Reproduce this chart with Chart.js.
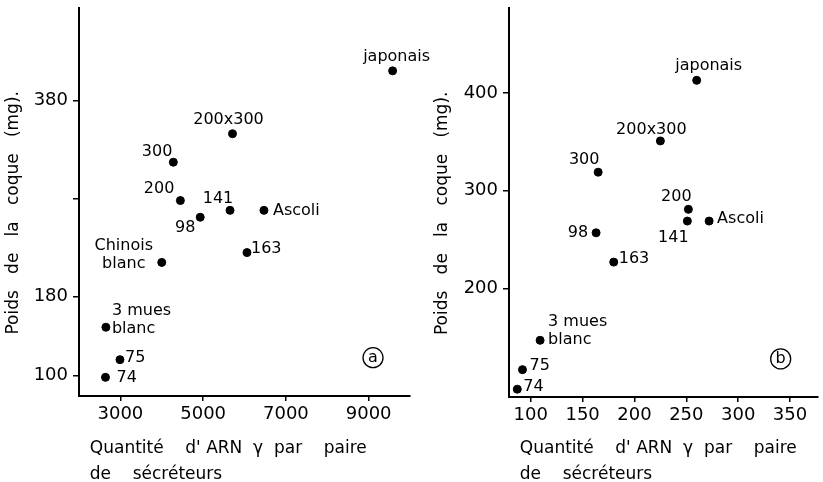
<!DOCTYPE html>
<html>
<head>
<meta charset="utf-8">
<script src="https://cdn.jsdelivr.net/npm/chart.js@4"></script>
<style>
  html, body { margin: 0; padding: 0; background: #fff; }
  #wrap { position: relative; width: 823px; height: 482px; overflow: hidden; background: #fff; }
  #chart-a { position: absolute; left: 0; top: 0; }
  #chart-b { position: absolute; left: 411px; top: 0; }
</style>
</head>
<body>
<div id="wrap">
  <canvas id="chart-a" width="450" height="482"></canvas>
  <canvas id="chart-b" width="412" height="482"></canvas>
</div>
<script>
// Panel a
const namesA = ['japonais', '200x300', '300', '200', '141', 'Ascoli', '98', '163', 'Chinois\nblanc', '3 mues\nblanc', '75', '74'];
const arnA = [9580, 5710, 4280, 4450, 5650, 6470, 4930, 6060, 4000, 2650, 2990, 2640];
const poidsA = [410, 346, 317, 278, 268, 268, 261, 225, 215, 149, 116, 98];
const xTicksA = [3000, 5000, 7000, 9000];
const yTicksA = [100, 180, 280, 380];
const yTickLabelsA = ['100', '180', '', '380'];

// Panel b
const namesB = ['japonais', '200x300', '300', '200', '141', 'Ascoli', '98', '163', '3 mues\nblanc', '75', '74'];
const arnB = [260, 225, 165, 252, 251, 272, 163, 180, 109, 92, 87];
const poidsB = [413, 351, 319, 281, 269, 269, 257, 227, 147, 117, 97];
const xTicksB = [100, 150, 200, 250, 300, 350];
const yTicksB = [200, 300, 400];
const yTickLabelsB = ['200', '300', '400'];

// label placement: [dx, dy, align]
const offsetsA = [[4, -14, 'center'], [-4, -14, 'center'], [-1, -10, 'right'], [-6, -12, 'right'],
  [-12, -12, 'center'], [9, 0, 'left'], [-15, 11, 'center'], [4, -4, 'left'],
  [-38, -17, 'center'], [6, -16, 'left'], [5, -2, 'left'], [11, 1, 'left']];
const offsetsB = [[12, -14, 'center'], [-9, -11, 'center'], [-14, -12, 'center'], [-12, -12, 'center'],
  [-14, 17, 'center'], [8, -2, 'left'], [-8, 0, 'right'], [5, -3, 'left'],
  [8, -18, 'left'], [7, -4, 'left'], [6, -2, 'left']];

const FONT = '"DejaVu Sans", sans-serif';

function labelPlugin(names, xs, ys, offsets, mark, letter) {
  return {
    id: 'pointLabels',
    afterDatasetsDraw(chart) {
      const { ctx, scales: { x, y } } = chart;
      ctx.save();
      ctx.fillStyle = '#000';
      ctx.strokeStyle = '#000';
      ctx.font = '16px ' + FONT;
      ctx.textBaseline = 'middle';
      names.forEach((name, i) => {
        const [dx, dy, align] = offsets[i];
        const px = x.getPixelForValue(xs[i]) + dx;
        const py = y.getPixelForValue(ys[i]) + dy;
        ctx.textAlign = align;
        name.split('\n').forEach((line, j) => ctx.fillText(line, px, py + j * 18));
      });
      // circled panel letter
      const cx = x.getPixelForValue(mark[0]);
      const cy = y.getPixelForValue(mark[1]);
      ctx.lineWidth = 1.3;
      ctx.beginPath();
      ctx.arc(cx, cy, 10, 0, Math.PI * 2);
      ctx.stroke();
      ctx.textAlign = 'center';
      ctx.fillText(letter, cx, cy);
      ctx.restore();
    }
  };
}

function makeChart(id, cfg) {
  return new Chart(document.getElementById(id), {
    type: 'scatter',
    data: {
      datasets: [{
        data: cfg.xs.map((v, i) => ({ x: v, y: cfg.ys[i] })),
        backgroundColor: '#000',
        borderColor: '#000',
        pointRadius: 4,
        pointHoverRadius: 4
      }]
    },
    options: {
      responsive: false,
      animation: false,
      layout: { padding: { top: 8, left: cfg.padLeft, right: cfg.padRight, bottom: 0 } },
      plugins: { legend: { display: false }, tooltip: { enabled: false } },
      scales: {
        x: {
          type: 'linear',
          min: cfg.xMin,
          max: cfg.xMax,
          afterBuildTicks: s => { s.ticks = cfg.xTicks.map(v => ({ value: v })); },
          afterFit: s => { s.height = cfg.xHeight; s.paddingLeft = 0; s.paddingRight = 0; },
          ticks: { color: '#000', font: { family: FONT, size: 18 }, padding: 3, maxRotation: 0,
            callback: v => String(v) },
          grid: { drawOnChartArea: false, tickLength: 5, color: '#000', lineWidth: 1.5 },
          border: { color: '#000', width: 2 },
          title: {
            display: true,
            align: 'start',
            text: ["  Quantit\u00e9    d' ARN  \u03b3  par    paire", '  de    s\u00e9cr\u00e9teurs'],
            color: '#000',
            font: { family: FONT, size: 17, lineHeight: 1.5 },
            padding: { top: 0, bottom: -5 }
          }
        },
        y: {
          type: 'linear',
          min: cfg.yMin,
          max: cfg.yMax,
          afterBuildTicks: s => { s.ticks = cfg.yTicks.map(v => ({ value: v })); },
          afterFit: s => { s.width = cfg.yWidth; s.paddingTop = 0; s.paddingBottom = 0; },
          ticks: { color: '#000', font: { family: FONT, size: 18 }, padding: 5,
            callback: (v, i) => cfg.yLabels[i] },
          grid: { drawOnChartArea: false, tickLength: 6, color: '#000', lineWidth: 1.5 },
          border: { color: '#000', width: 2 },
          title: {
            display: true,
            text: 'Poids   de   la   coque   (mg).    ',
            color: '#000',
            font: { family: FONT, size: 17 },
            padding: { top: 3, bottom: 0 }
          }
        }
      }
    },
    plugins: [labelPlugin(cfg.names, cfg.xs, cfg.ys, cfg.offsets, cfg.mark, cfg.letter)]
  });
}

makeChart('chart-a', {
  names: namesA, xs: arnA, ys: poidsA, offsets: offsetsA,
  xTicks: xTicksA, yTicks: yTicksA, yLabels: yTickLabelsA,
  xMin: 2000, xMax: 10000, yMin: 79, yMax: 474,
  padLeft: 0, padRight: 40, yWidth: 79, xHeight: 86,
  mark: [9106, 118], letter: 'a'
});

makeChart('chart-b', {
  names: namesB, xs: arnB, ys: poidsB, offsets: offsetsB,
  xTicks: xTicksB, yTicks: yTicksB, yLabels: yTickLabelsB,
  xMin: 79, xMax: 377, yMin: 89, yMax: 487,
  padLeft: 18, padRight: 5, yWidth: 80, xHeight: 85,
  mark: [341, 128], letter: 'b'
});
</script>
</body>
</html>
